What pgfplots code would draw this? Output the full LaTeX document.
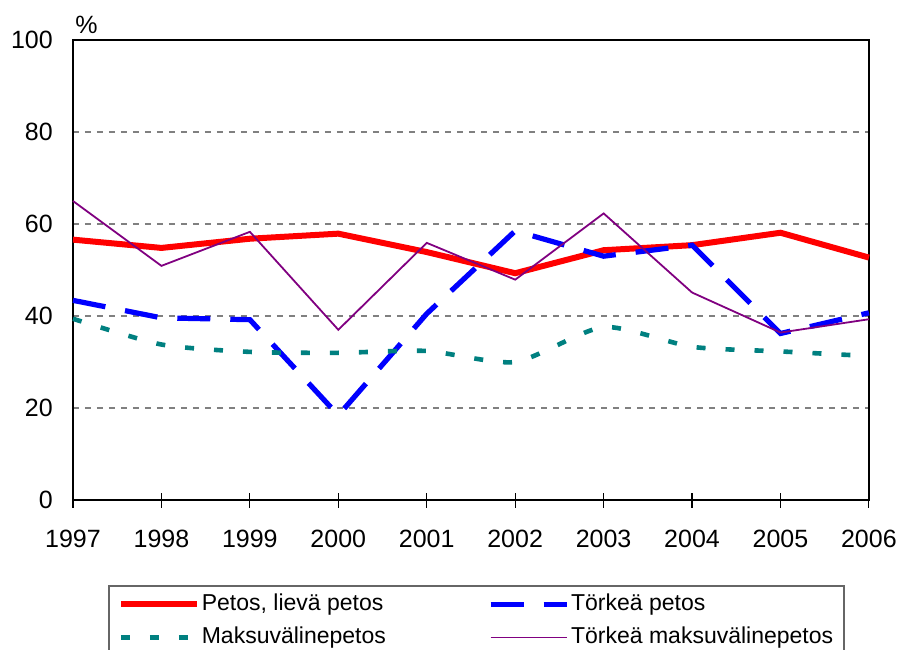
\documentclass[border=0pt]{standalone}
\usepackage{fontspec}
\setmainfont{Liberation Sans}
\usepackage{pgfplots}
\pgfplotsset{compat=1.18}
\definecolor{cred}{RGB}{255,0,0}
\definecolor{cblue}{RGB}{0,0,255}
\definecolor{cteal}{RGB}{0,128,128}
\definecolor{cpurple}{RGB}{128,0,128}
\begin{document}
\fontsize{12.5}{15}\selectfont
\begin{tikzpicture}
\path[use as bounding box] (-36.5pt,-74.5pt) rectangle (414pt,250pt);
\begin{axis}[
  at={(0,0)}, anchor=south west,
  scale only axis, width=398pt, height=230pt,
  xmin=1997, xmax=2006, ymin=0, ymax=100,
  xtick={1997,...,2006}, ytick={0,20,...,100},
  /pgf/number format/assume math mode=true,
  x tick label style={/pgf/number format/1000 sep={}, yshift=-7pt},
  y tick label style={xshift=-2pt},
  tick label style={font=\fontsize{12.5}{15}\selectfont},
  ymajorgrids,
  grid style={gray, dash pattern=on 3pt off 3pt, line width=0.7pt},
  axis line style={line width=1pt},
  xtick pos=lower, ytick pos=left,
  tick align=center,
  major tick length=7.5pt,
  xtick style={black, line width=0.6pt},
  ytick style={draw=none},
  legend columns=2,
  legend cell align=left,
  legend image code/.code={\draw[#1] (0pt,0pt) -- (38pt,0pt);},
  legend style={at={(0.044,-0.185)}, anchor=north west,
    draw=black!60, line width=0.8pt,
    font=\fontsize{11.5}{14}\selectfont,
    inner xsep=4.5pt, inner ysep=2pt,
    nodes={inner xsep=1pt},
    row sep=2.5pt,
    /tikz/column 2/.style={column sep=50pt},
  },
  clip=false,
]
\addplot[cred, line width=3pt] coordinates {
 (1997,56.6) (1998,54.8) (1999,56.8) (2000,57.9) (2001,53.9)
 (2002,49.3) (2003,54.3) (2004,55.4) (2005,58.1) (2006,52.7)};
\addlegendentry{Petos, lievä petos}
\addplot[cblue, line width=2.6pt, dash pattern=on 16.5pt off 10pt] coordinates {
 (1997,43.4) (1998,39.6) (1999,39.2) (2000,18.4) (2001,40.5)
 (2002,58.5) (2003,53.0) (2004,55.4) (2005,36.2) (2006,40.7)};
\addlegendentry{Törkeä petos}
\addplot[cteal, line width=2.3pt, dash pattern=on 4.5pt off 10pt, smooth, tension=0.4] coordinates {
 (1997,39.4) (1998,33.8) (1999,32.2) (2000,32.0) (2001,32.4)
 (2002,30.0) (2003,37.6) (2004,33.3) (2005,32.3) (2006,31.3)};
\addlegendentry{Maksuvälinepetos}
\addplot[cpurple, line width=0.9pt] coordinates {
 (1997,65.0) (1998,50.9) (1999,58.3) (2000,37.0) (2001,55.9)
 (2002,47.9) (2003,62.3) (2004,45.1) (2005,36.4) (2006,39.3)};
\addlegendentry{Törkeä maksuvälinepetos}
\node[anchor=south west, inner sep=0pt, font=\fontsize{12.5}{15}\selectfont] at (rel axis cs:0,1) [yshift=3pt, xshift=1pt] {\%};
\end{axis}
\end{tikzpicture}
\end{document}
